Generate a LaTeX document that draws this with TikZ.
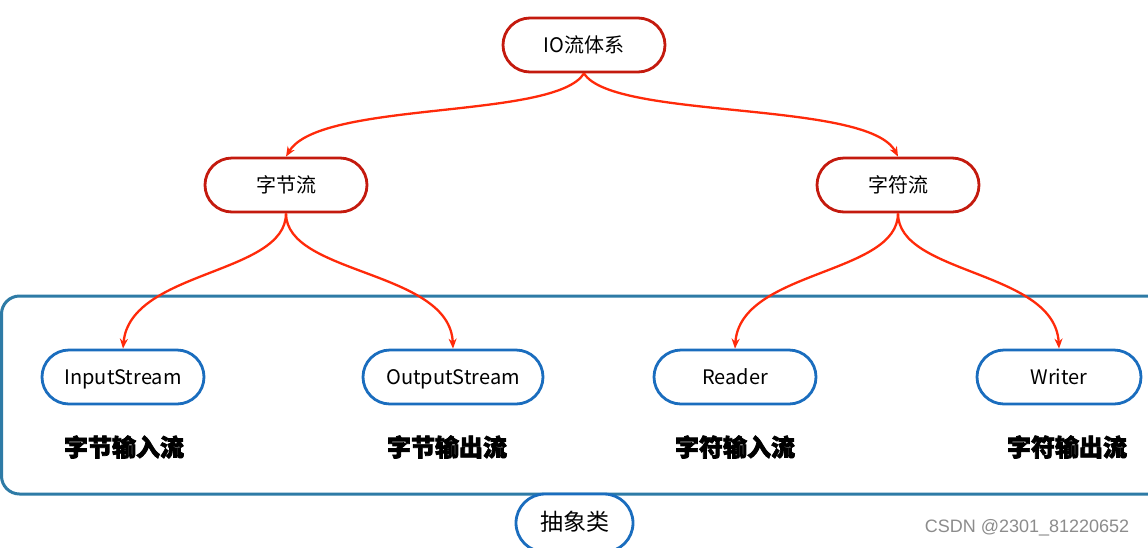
\documentclass[tikz,border=0pt]{standalone}
\usepackage{fontspec}
\setmainfont{Noto Sans CJK SC}
\newfontfamily\wmfont{Liberation Sans}
\newfontfamily\heavyfont[FakeBold=3]{Noto Sans CJK SC Black}
\usetikzlibrary{arrows.meta}
\definecolor{topred}{HTML}{C41A0E}
\definecolor{arrred}{HTML}{FF2A0A}
\definecolor{nodeblue}{HTML}{1A6DBE}
\definecolor{rectblue}{HTML}{2E7BA6}
\tikzset{
  basenode/.style={rounded corners=27pt, minimum width=162pt, minimum height=54pt, fill=white, font=\fontsize{20}{20}\selectfont, inner sep=0pt, text height=17pt, text depth=2pt},
  rednode/.style={basenode, draw=topred, line width=2.8pt},
  bluenode/.style={basenode, draw=nodeblue, line width=2.8pt},
  boldlabel/.style={font=\heavyfont\fontsize{24}{24}\selectfont, inner sep=0pt},
  redarrow/.style={draw=arrred, line width=2.3pt, -{Stealth[length=10pt,width=8pt]}}
}
\begin{document}
\begin{tikzpicture}[x=1pt,y=-1pt]
\useasboundingbox (0,0) rectangle (1148,547);
\fill[white] (0,0) rectangle (1148,547);
% big frame
\draw[rectblue, line width=3pt, rounded corners=18pt] (1.5,296) rectangle (1175,494);
% top level
\node[rednode] (io) at (584,45) {IO流体系};
\node[rednode] (zj) at (286,185) {字节流};
\node[rednode] (zf) at (898,185) {字符流};
% stream nodes
\node[bluenode] (in) at (123,377) {InputStream};
\node[bluenode, minimum width=180pt] (out) at (453,377) {OutputStream};
\node[bluenode] (rd) at (735,377) {Reader};
\node[bluenode, minimum width=164pt] (wr) at (1059,377) {Writer};
% labels
\node[boldlabel] (l1) at (124,447) {字节输入流};
\node[boldlabel] (l2) at (447,447) {字节输出流};
\node[boldlabel] (l3) at (735,447) {字符输入流};
\node[boldlabel] (l4) at (1067,447) {字符输出流};
% abstract
\node[bluenode, minimum width=117pt, minimum height=58pt, rounded corners=29pt, font=\fontsize{23}{23}\selectfont, text height=18pt, text depth=4pt] (abs) at (574.5,523) {抽象类};
% watermark
\node[font=\wmfont\fontsize{18}{18}\selectfont, text=black!45, inner sep=0pt] (wm) at (1027,528) {CSDN @2301\_81220652};
% arrows
\draw[redarrow] (io.south) .. controls (555,120) and (320,100) .. (zj.north);
\draw[redarrow] (io.south) .. controls (613,120) and (868,100) .. (zf.north);
\draw[redarrow] (zj.south) .. controls (286,275) and (130,270) .. (in.north);
\draw[redarrow] (zj.south) .. controls (286,275) and (450,270) .. (out.north);
\draw[redarrow] (zf.south) .. controls (898,275) and (740,270) .. (rd.north);
\draw[redarrow] (zf.south) .. controls (898,275) and (1055,270) .. (wr.north);
\end{tikzpicture}
\end{document}
